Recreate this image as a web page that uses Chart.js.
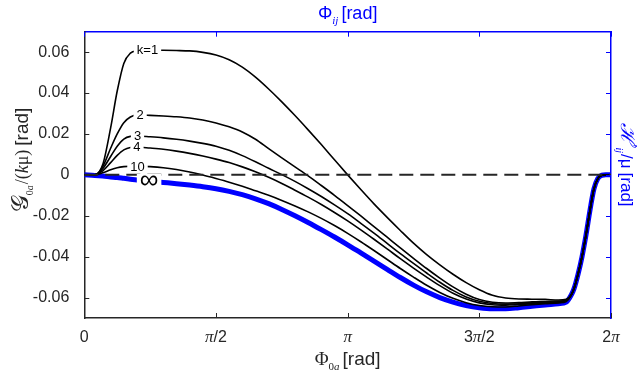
<!DOCTYPE html>
<html><head><meta charset="utf-8">
<script src="https://cdn.jsdelivr.net/npm/chart.js@4.4.1/dist/chart.umd.min.js"></script>
<style>html,body{margin:0;padding:0;background:#fff;}#wrap{width:639px;height:372px;position:relative;}</style>
</head><body><div id="wrap"><canvas id="c" width="639" height="372"></canvas></div>
<script>
// Phi_0a in units of pi
const phiOverPi = [0, 0.04, 0.07, 0.1, 0.125, 0.15, 0.175,
  0.2, 0.25, 0.3, 0.35, 0.4, 0.45, 0.5, 0.55, 0.6, 0.65, 0.7, 0.75, 0.8, 0.85, 0.9, 0.95, 1.0,
  1.05, 1.1, 1.15, 1.2, 1.25, 1.3, 1.35, 1.4, 1.45, 1.5, 1.55, 1.6, 1.65, 1.7, 1.75, 1.8,
  1.83, 1.85, 1.86, 1.875, 1.89, 1.905, 1.92, 1.935, 1.95, 1.965, 1.98, 2.0];
const k1 = [0, 0, 0.005, 0.023, 0.041, 0.0545, 0.0595,
  0.0606, 0.0609, 0.0609, 0.0608, 0.0606, 0.0599, 0.0586, 0.0563, 0.0527, 0.0478, 0.0420, 0.0357, 0.0290, 0.0220, 0.0148, 0.0074, 0.0000,
  -0.0072, -0.0142, -0.0208, -0.0272, -0.0334, -0.0390, -0.0440, -0.0486, -0.0527, -0.0562, -0.0589, -0.0602, -0.0607, -0.0608, -0.0609, -0.0612,
  -0.0608, -0.0585, -0.0555, -0.0485, -0.0400, -0.0295, -0.0175, -0.0070, -0.0018, -0.0002, 0, 0];
const k2 = [0, 0, 0.004, 0.013, 0.020, 0.0255, 0.0283,
  0.0293, 0.0291, 0.0288, 0.0284, 0.0278, 0.0268, 0.0254, 0.0235, 0.0210, 0.0174, 0.0128, 0.0083, 0.0039, -0.0005, -0.0052, -0.0100, -0.0150,
  -0.0201, -0.0253, -0.0305, -0.0357, -0.0408, -0.0458, -0.0505, -0.0548, -0.0584, -0.0610, -0.0623, -0.0627, -0.0625, -0.0621, -0.0619, -0.0617,
  -0.0613, -0.0585, -0.0555, -0.0485, -0.0400, -0.0295, -0.0175, -0.0070, -0.0018, -0.0002, 0, 0];
const k3 = [0, 0, 0.003, 0.009, 0.014, 0.0175, 0.0188,
  0.0190, 0.0186, 0.0181, 0.0174, 0.0165, 0.0154, 0.0140, 0.0120, 0.0094, 0.0064, 0.0032, 0.0001, -0.0032, -0.0068, -0.0106, -0.0147, -0.0190,
  -0.0237, -0.0285, -0.0335, -0.0385, -0.0433, -0.0480, -0.0525, -0.0565, -0.0597, -0.0618, -0.0629, -0.0632, -0.0630, -0.0626, -0.0624, -0.0621,
  -0.0615, -0.0585, -0.0555, -0.0485, -0.0400, -0.0295, -0.0175, -0.0070, -0.0018, -0.0002, 0, 0];
const k4 = [0, 0, 0.002, 0.006, 0.0095, 0.0122, 0.0134,
  0.0136, 0.0131, 0.0125, 0.0116, 0.0105, 0.0092, 0.0077, 0.0060, 0.0039, 0.0015, -0.0012, -0.0042, -0.0075, -0.0109, -0.0145, -0.0184, -0.0225,
  -0.0269, -0.0315, -0.0362, -0.0410, -0.0456, -0.0500, -0.0542, -0.0579, -0.0607, -0.0626, -0.0635, -0.0637, -0.0634, -0.0630, -0.0627, -0.0624,
  -0.0617, -0.0585, -0.0555, -0.0485, -0.0400, -0.0295, -0.0175, -0.0070, -0.0018, -0.0002, 0, 0];
const k10 = [0, 0, 0.001, 0.0025, 0.0035, 0.0040, 0.0042,
  0.0042, 0.0040, 0.0035, 0.0026, 0.0014, -0.0001, -0.0018, -0.0036, -0.0056, -0.0078, -0.0100, -0.0125, -0.0152, -0.0181, -0.0213, -0.0248, -0.0286,
  -0.0327, -0.0370, -0.0414, -0.0458, -0.0500, -0.0540, -0.0575, -0.0604, -0.0625, -0.0639, -0.0645, -0.0646, -0.0641, -0.0635, -0.0630, -0.0626,
  -0.0619, -0.0585, -0.0555, -0.0485, -0.0400, -0.0295, -0.0175, -0.0070, -0.0018, -0.0002, 0, 0];
const kInf = [0, -0.0003, -0.0006, -0.0010, -0.0013, -0.0017, -0.0021,
  -0.0025, -0.0031, -0.0037, -0.0043, -0.0050, -0.0058, -0.0068, -0.0081, -0.0097, -0.0117, -0.0141, -0.0169, -0.0200, -0.0233, -0.0268, -0.0304, -0.0342,
  -0.0382, -0.0422, -0.0462, -0.0502, -0.0539, -0.0572, -0.0600, -0.0622, -0.0639, -0.0650, -0.0655, -0.0655, -0.0650, -0.0643, -0.0636, -0.0630,
  -0.0622, -0.0585, -0.0555, -0.0485, -0.0400, -0.0295, -0.0175, -0.0070, -0.0018, -0.0002, 0, 0];

const yTickValues = [-0.06, -0.04, -0.02, 0, 0.02, 0.04, 0.06];
const yTickLabels = ['-0.06', '-0.04', '-0.02', '0', '0.02', '0.04', '0.06'];
const xTickValues = [0, 0.5, 1, 1.5, 2];
// tick label pieces: [text, isPiGlyph]
const xTickLabels = [[['0',0]], [['π',1],['/2',0]], [['π',1]], [['3',0],['π',1],['/2',0]], [['2',0],['π',1]]];

const curveTexts = ['k=1', '2', '3', '4', '10', '∞'];
const curveLabelX = [0.24, 0.212, 0.202, 0.200, 0.202, 0.246];
const curveLabelY = [0.0609, 0.0292, 0.0188, 0.0136, 0.0041, -0.0025];

const SANS = '"Liberation Sans", Arial, sans-serif';
const SERIF = '"Liberation Serif", "Times New Roman", serif';
const DARK = '#262626';
const BLUE = '#0000ff';

function pts(arr){ return phiOverPi.map((x,i)=>({x:x, y:arr[i]})); }
function line(arr, color, w){ return {data: pts(arr), borderColor: color, borderWidth: w, pointRadius: 0, fill: false, cubicInterpolationMode: 'monotone'}; }

function drawRich(ctx, segs, cx, cy, rot, color){
  ctx.save();
  ctx.translate(cx, cy); ctx.rotate(rot);
  ctx.fillStyle = color; ctx.textAlign = 'left'; ctx.textBaseline = 'alphabetic';
  let total = 0;
  segs.forEach(s=>{ ctx.font = s.f; s.w = ctx.measureText(s.t).width; total += s.w + (s.g||0); });
  let x = -total/2;
  segs.forEach(s=>{ ctx.font = s.f; ctx.fillText(s.t, x, s.dy||0); x += s.w + (s.g||0); });
  ctx.restore();
}

const decor = {
  id: 'decor',
  afterDatasetsDraw(chart){
    const ctx = chart.ctx, ca = chart.chartArea;
    const xs = chart.scales.x, ys = chart.scales.y;
    ctx.save();
    curveTexts.forEach((t,i)=>{
      const px = xs.getPixelForValue(curveLabelX[i]);
      const py = ys.getPixelForValue(curveLabelY[i]);
      const inf = t === '∞';
      ctx.font = inf ? '26px ' + SANS : '13px ' + SANS;
      const w = ctx.measureText(t).width;
      const h = inf ? 12 : 11;
      ctx.fillStyle = '#fff';
      ctx.fillRect(px - w/2 - 3, py - h/2, w + 6, h);
      ctx.fillStyle = '#000';
      ctx.textAlign = 'center'; ctx.textBaseline = 'middle';
      ctx.fillText(t, px, inf ? py + 1 : py + 0.5);
    });
    ctx.restore();
    ctx.save();
    ctx.lineWidth = 1;
    yTickValues.forEach(v=>{
      const py = Math.round(ys.getPixelForValue(v)) + 0.5;
      ctx.strokeStyle = DARK; ctx.beginPath(); ctx.moveTo(ca.left, py); ctx.lineTo(ca.left + 5, py); ctx.stroke();
      ctx.strokeStyle = BLUE; ctx.beginPath(); ctx.moveTo(ca.right, py); ctx.lineTo(ca.right - 5, py); ctx.stroke();
    });
    xTickValues.forEach(v=>{
      const px = Math.round(xs.getPixelForValue(v)) + 0.5;
      ctx.strokeStyle = DARK; ctx.beginPath(); ctx.moveTo(px, ca.bottom); ctx.lineTo(px, ca.bottom - 5); ctx.stroke();
      ctx.strokeStyle = BLUE; ctx.beginPath(); ctx.moveTo(px, ca.top); ctx.lineTo(px, ca.top + 5); ctx.stroke();
    });
    ctx.restore();
    xTickValues.forEach((v,i)=>{
      const segs = xTickLabels[i].map(p=>({t:p[0], f: p[1] ? 'italic 17px ' + SERIF : '16px ' + SANS}));
      drawRich(ctx, segs, xs.getPixelForValue(v), 341.5, 0, DARK);
    });
    drawRich(ctx, [
      {t:'Φ', f:'19px ' + SERIF},
      {t:'0', f:'11px ' + SERIF, dy:5},
      {t:'a', f:'italic 11px ' + SERIF, dy:5, g:3},
      {t:'[rad]', f:'19px ' + SANS}
    ], (ca.left+ca.right)/2, 365, 0, DARK);
    drawRich(ctx, [
      {t:'Φ', f:'18px ' + SANS},
      {t:'ij', f:'italic 11px ' + SERIF, dy:5, g:3},
      {t:'[rad]', f:'18px ' + SANS}
    ], (ca.left+ca.right)/2, 18.5, 0, BLUE);
    drawRich(ctx, [
      {t:'𝒢', f:'24px ' + SERIF},
      {t:'0', f:'10px ' + SERIF, dy:5},
      {t:'a', f:'italic 10px ' + SERIF, dy:5, g:1},
      {t:'/(', f:'18px ' + SERIF},
      {t:'k', f:'italic 18px ' + SERIF},
      {t:'μ)', f:'18px ' + SERIF, g:4},
      {t:'[rad]', f:'19px ' + SANS}
    ], 28, 160, -Math.PI/2, DARK);
    drawRich(ctx, [
      {t:'ℋ', f:'italic 20px ' + SERIF},
      {t:'′', f:'14px ' + SERIF, dy:-6},
      {t:'ij', f:'italic 10px ' + SERIF, dy:5, g:1},
      {t:'/μ', f:'17px ' + SANS, g:4},
      {t:'[rad]', f:'17px ' + SANS}
    ], 621, 165, Math.PI/2, BLUE);
  }
};

new Chart(document.getElementById('c'), {
  type: 'line',
  data: { datasets: [
    {data: [{x:0,y:0},{x:2,y:0}], borderColor: DARK, borderWidth: 2, borderDash: [14,7], pointRadius: 0, fill: false},
    line(k1, '#000', 1.6),
    line(k2, '#000', 1.6),
    line(k3, '#000', 1.6),
    line(k4, '#000', 1.6),
    line(k10, '#000', 1.6),
    line(kInf, BLUE, 5)
  ]},
  options: {
    responsive: false, animation: false, events: [],
    layout: { padding: 0 },
    plugins: { legend: {display:false}, tooltip: {enabled:false}, title: {display:false} },
    scales: {
      x: { type:'linear', position:'bottom', min:0, max:2,
           grid:{display:false}, ticks:{display:false},
           border:{display:true, color:DARK, width:1.5},
           afterFit(s){ s.height = 54; } },
      x2: { type:'linear', position:'top', min:0, max:2,
           grid:{display:false}, ticks:{display:false},
           border:{display:true, color:BLUE, width:1.5},
           afterFit(s){ s.height = 31.7; } },
      y: { type:'linear', position:'left', min:-0.07, max:0.07,
           grid:{display:false},
           border:{display:true, color:DARK, width:1.5},
           afterBuildTicks(s){ s.ticks = yTickValues.map(v=>({value:v})); },
           ticks:{ autoSkip:false, padding:7, color:DARK, font:{family:'Liberation Sans', size:16},
                   callback:(v)=> yTickLabels[yTickValues.indexOf(v)] },
           afterFit(s){ s.width = 84.3; } },
      y2: { type:'linear', position:'right', min:-0.07, max:0.07,
           grid:{display:false}, ticks:{display:false},
           border:{display:true, color:BLUE, width:1.5},
           afterFit(s){ s.width = 28; } }
    }
  },
  plugins: [decor]
});
</script></body></html>
